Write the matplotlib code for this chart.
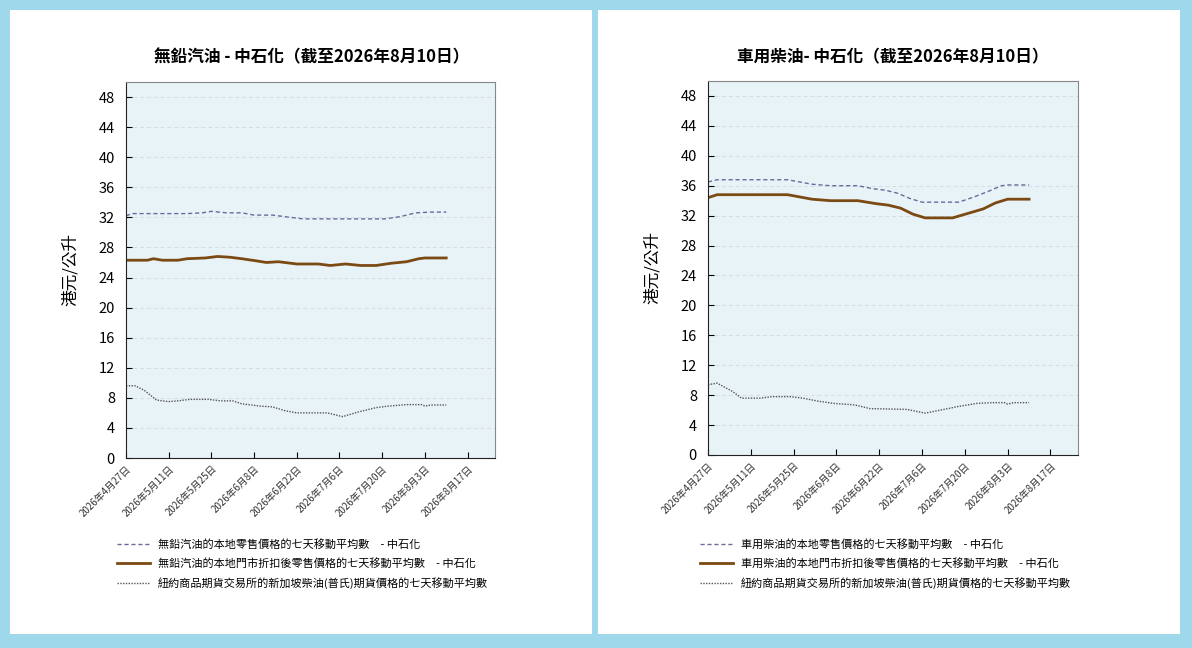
import matplotlib
matplotlib.use("Agg")
import matplotlib.pyplot as plt
from matplotlib.patches import Rectangle
import numpy as np

plt.rcParams['font.family'] = ['Noto Sans CJK TC', 'DejaVu Sans']

# ---- data (7-day moving averages, HK$/litre) ----
petrol_retail_dates = ["2026-04-27", "2026-04-29", "2026-05-17", "2026-05-22", "2026-05-25", "2026-05-30",
                       "2026-06-04", "2026-06-08", "2026-06-14", "2026-06-20", "2026-06-24", "2026-07-21",
                       "2026-07-26", "2026-07-31", "2026-08-05", "2026-08-10"]
petrol_retail = [32.2, 32.5, 32.5, 32.6, 32.8, 32.6, 32.6, 32.3, 32.3, 32.0, 31.8, 31.8, 32.1, 32.6, 32.7, 32.7]

petrol_disc_dates = ["2026-04-27", "2026-05-04", "2026-05-06", "2026-05-09", "2026-05-14", "2026-05-17",
                     "2026-05-23", "2026-05-27", "2026-05-31", "2026-06-04", "2026-06-09", "2026-06-12",
                     "2026-06-16", "2026-06-22", "2026-06-29", "2026-07-03", "2026-07-08", "2026-07-13",
                     "2026-07-18", "2026-07-23", "2026-07-28", "2026-08-01", "2026-08-03", "2026-08-10"]
petrol_disc = [26.3, 26.3, 26.5, 26.3, 26.3, 26.5, 26.6, 26.8, 26.7, 26.5, 26.2, 26.0,
               26.1, 25.8, 25.8, 25.6, 25.8, 25.6, 25.6, 25.9, 26.1, 26.5, 26.6, 26.6]

petrol_fut_dates = ["2026-04-27", "2026-04-30", "2026-05-03", "2026-05-07", "2026-05-11", "2026-05-14",
                    "2026-05-18", "2026-05-24", "2026-05-28", "2026-06-01", "2026-06-04", "2026-06-10",
                    "2026-06-14", "2026-06-18", "2026-06-22", "2026-07-02", "2026-07-07", "2026-07-12",
                    "2026-07-18", "2026-07-22", "2026-07-28", "2026-08-02", "2026-08-03", "2026-08-05",
                    "2026-08-10"]
petrol_fut = [9.6, 9.6, 9.0, 7.7, 7.5, 7.6, 7.8, 7.8, 7.6, 7.6, 7.2, 6.9, 6.8, 6.3, 6.0, 6.0,
              5.5, 6.1, 6.7, 6.9, 7.1, 7.1, 6.9, 7.05, 7.05]

diesel_retail_dates = ["2026-04-27", "2026-04-30", "2026-05-23", "2026-05-27", "2026-05-31", "2026-06-06",
                       "2026-06-15", "2026-06-20", "2026-06-24", "2026-06-28", "2026-07-02", "2026-07-06",
                       "2026-07-18", "2026-07-23", "2026-07-28", "2026-08-01", "2026-08-03", "2026-08-10"]
diesel_retail = [36.5, 36.8, 36.8, 36.5, 36.2, 36.0, 36.0, 35.6, 35.4, 35.0, 34.3, 33.8,
                 33.8, 34.5, 35.3, 36.0, 36.1, 36.1]

diesel_disc_dates = ["2026-04-27", "2026-04-30", "2026-05-23", "2026-05-27", "2026-05-31", "2026-06-06",
                     "2026-06-15", "2026-06-21", "2026-06-25", "2026-06-29", "2026-07-03", "2026-07-07",
                     "2026-07-16", "2026-07-21", "2026-07-26", "2026-07-30", "2026-08-03", "2026-08-10"]
diesel_disc = [34.4, 34.8, 34.8, 34.5, 34.2, 34.0, 34.0, 33.6, 33.4, 33.0, 32.2, 31.7,
               31.7, 32.3, 32.9, 33.7, 34.2, 34.2]

diesel_fut_dates = ["2026-04-27", "2026-04-30", "2026-05-05", "2026-05-08", "2026-05-14", "2026-05-18",
                    "2026-05-24", "2026-05-28", "2026-06-02", "2026-06-07", "2026-06-14", "2026-06-19",
                    "2026-07-01", "2026-07-07", "2026-07-12", "2026-07-18", "2026-07-24", "2026-07-29",
                    "2026-08-02", "2026-08-03", "2026-08-05", "2026-08-10"]
diesel_fut = [9.4, 9.6, 8.5, 7.6, 7.6, 7.8, 7.8, 7.6, 7.2, 6.9, 6.7, 6.2, 6.1, 5.6, 6.0, 6.5,
              6.9, 7.0, 7.0, 6.8, 7.0, 7.0]

tick_dates = ["2026-04-27", "2026-05-11", "2026-05-25", "2026-06-08", "2026-06-22",
              "2026-07-06", "2026-07-20", "2026-08-03", "2026-08-17"]
y_ticks = list(range(0, 49, 4))

titles = ["無鉛汽油 - 中石化（截至2026年8月10日）", "車用柴油- 中石化（截至2026年8月10日）"]
labels_petrol = ["無鉛汽油的本地零售價格的七天移動平均數　- 中石化",
                 "無鉛汽油的本地門市折扣後零售價格的七天移動平均數　- 中石化",
                 "紐約商品期貨交易所的新加坡柴油(普氏)期貨價格的七天移動平均數"]
labels_diesel = ["車用柴油的本地零售價格的七天移動平均數　- 中石化",
                 "車用柴油的本地門市折扣後零售價格的七天移動平均數　- 中石化",
                 "紐約商品期貨交易所的新加坡柴油(普氏)期貨價格的七天移動平均數"]

W, H = 1192, 648
fig = plt.figure(figsize=(W / 100, H / 100), dpi=100)
fig.patch.set_facecolor('#9fd8ea')

# white panels
for x0, x1 in [(10, 592), (598, 1180)]:
    fig.patches.append(Rectangle((x0 / W, 14 / H), (x1 - x0) / W, 624 / H,
                                 transform=fig.transFigure, facecolor='white',
                                 edgecolor='none', zorder=-10))


def to_dates(lst):
    return np.array(lst, dtype='datetime64[D]')


def tick_label(d):
    d = d.astype(object)
    return f"{d.year}年{d.month}月{d.day}日"


def draw_panel(rect, title, title_x, series, labels, leg_x):
    ax = fig.add_axes(rect)
    ax.set_zorder(2)
    ax.set_facecolor('#e8f3f8')
    styles = [dict(color='#6b6b9b', lw=1.0, ls=(0, (3, 2))),
              dict(color='#7b4a12', lw=2.0, ls='-'),
              dict(color='#555555', lw=1.0, ls=(0, (1, 1)))]
    handles = []
    for (dates, vals), st in zip(series, styles):
        h, = ax.plot(to_dates(dates), vals, **st)
        handles.append(h)
    ax.set_ylim(0, 50)
    ax.set_xlim(np.datetime64("2026-04-27"), np.datetime64("2026-08-26"))
    ax.set_yticks(y_ticks)
    ticks = to_dates(tick_dates)
    ax.set_xticks(ticks)
    ax.set_xticklabels([tick_label(t) for t in ticks], rotation=45, ha='right',
                       rotation_mode='anchor', fontsize=7, color='#333333')
    ax.tick_params(axis='y', direction='in', length=4, labelsize=10.5, pad=8)
    ax.tick_params(axis='x', direction='in', length=4, pad=4)
    ax.grid(axis='y', color='#d3dde3', ls=(0, (4, 3)), lw=0.7)
    ax.set_axisbelow(True)
    for s in ['top', 'right']:
        ax.spines[s].set_color('#888888')
    for s in ['left', 'bottom']:
        ax.spines[s].set_color('#222222')
    ax.set_ylabel("港元/公升", fontsize=12, labelpad=14)
    fig.text(title_x / W, 1 - 57 / H, title, ha='center', va='center',
             fontsize=12, fontweight='bold')
    fig.legend(handles, labels, loc='upper left', bbox_to_anchor=(leg_x / W, 1 - 539 / H),
               frameon=False, fontsize=8, handlelength=3.0, handletextpad=0.7,
               labelspacing=0.75, borderpad=0, borderaxespad=0)
    return ax


draw_panel([126 / W, 190 / H, 369 / W, 376 / H], titles[0], 312,
           [(petrol_retail_dates, petrol_retail), (petrol_disc_dates, petrol_disc),
            (petrol_fut_dates, petrol_fut)], labels_petrol, 117)
draw_panel([708 / W, 193 / H, 370 / W, 374 / H], titles[1], 893,
           [(diesel_retail_dates, diesel_retail), (diesel_disc_dates, diesel_disc),
            (diesel_fut_dates, diesel_fut)], labels_diesel, 700)

fig.savefig("out.png", dpi=100)
